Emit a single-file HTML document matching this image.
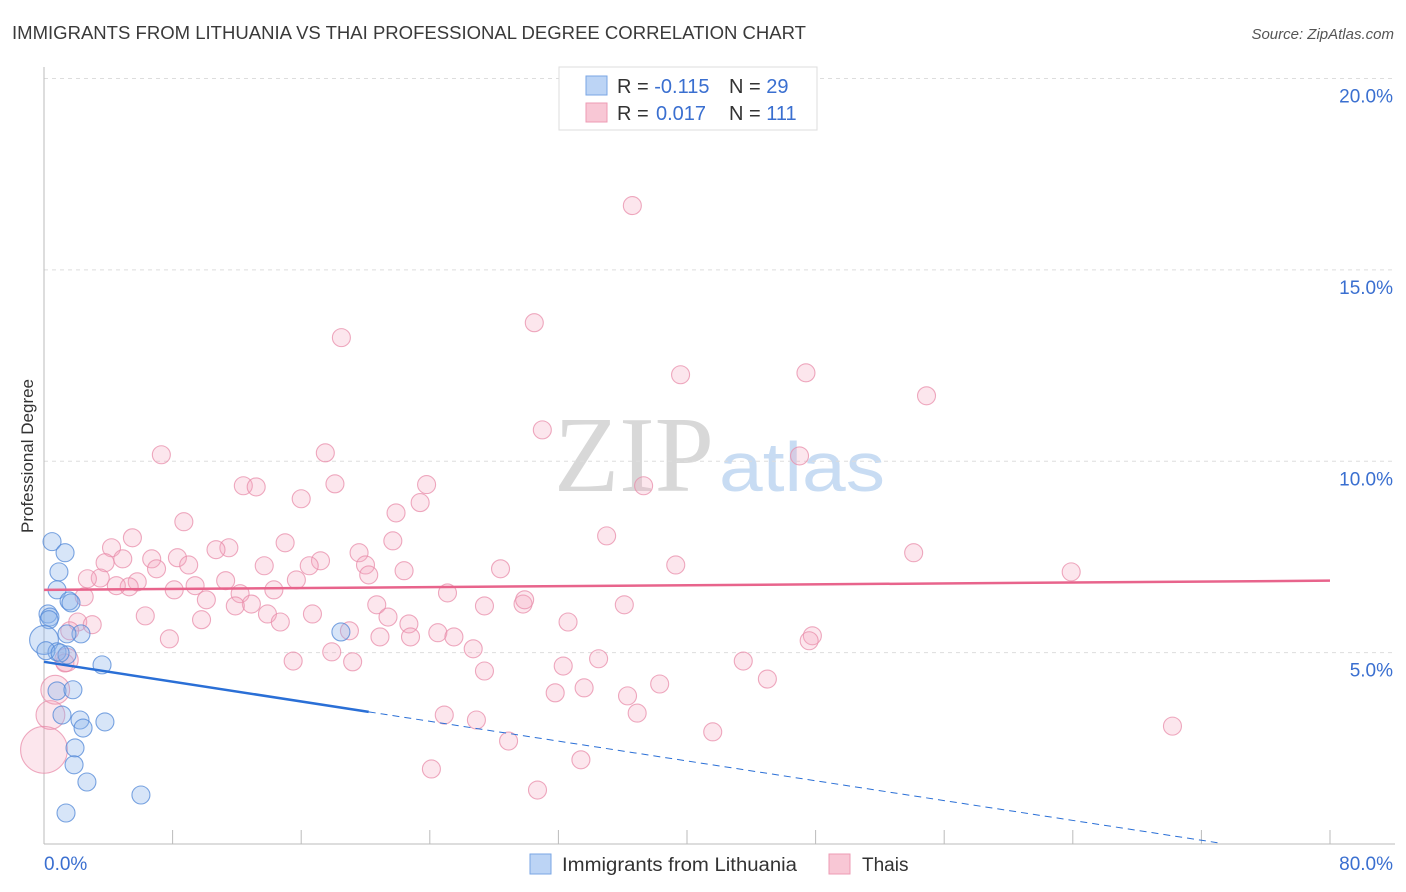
<!DOCTYPE html>
<html><head><meta charset="utf-8"><style>
body{margin:0;background:#fff;font-family:"Liberation Sans",sans-serif;}
svg{display:block}
</style></head><body>
<svg id="chart" width="1406" height="892">
<text x="12" y="39" font-size="18" fill="#3a3a3a" textLength="794" lengthAdjust="spacingAndGlyphs">IMMIGRANTS FROM LITHUANIA VS THAI PROFESSIONAL DEGREE CORRELATION CHART</text>
<text x="1394" y="39" font-size="15" fill="#555" font-style="italic" text-anchor="end">Source: ZipAtlas.com</text>
<text transform="translate(33,456) rotate(-90)" font-size="17" fill="#333" text-anchor="middle">Professional Degree</text>
<g>
<text x="634" y="491" font-size="108" font-family="Liberation Serif,serif" fill="#d8d8d8" text-anchor="middle" textLength="160" lengthAdjust="spacingAndGlyphs">ZIP</text>
<text x="802" y="491" font-size="70" fill="#c8dcf3" text-anchor="middle" textLength="166" lengthAdjust="spacingAndGlyphs">atlas</text>
</g>
<g id="grid"></g><g id="axes"></g><g id="marks"></g><g id="trends"></g>
<g>
<rect x="559" y="67" width="258" height="63" fill="#fff" stroke="#ddd"/>
<rect x="586" y="76" width="21" height="19" fill="#bcd4f5" stroke="#7aa6e4"/>
<rect x="586" y="103" width="21" height="19" fill="#f8c7d5" stroke="#ee9bb4"/>
<text x="617" y="93" font-size="20" fill="#333">R = <tspan fill="#3a6fd0">-0.115</tspan><tspan x="729">N = </tspan><tspan fill="#3a6fd0">29</tspan></text>
<text x="617" y="120" font-size="20" fill="#333">R = <tspan x="656" fill="#3a6fd0">0.017</tspan><tspan x="729">N = </tspan><tspan fill="#3a6fd0">111</tspan></text>
</g>
<g>
<rect x="530" y="854" width="21" height="20" fill="#bcd4f5" stroke="#7aa6e4"/>
<text x="562" y="871" font-size="19" fill="#333" textLength="235" lengthAdjust="spacingAndGlyphs">Immigrants from Lithuania</text>
<rect x="829" y="854" width="21" height="20" fill="#f8c7d5" stroke="#ee9bb4"/>
<text x="862" y="871" font-size="19" fill="#333">Thais</text>
</g>
</svg>
<script>
const blueX=[0.5,1.31,0.93,0.81,1.56,1.68,0.25,0.37,0.31,0,2.3,1.43,0.81,1.43,3.61,0.81,1.8,1.12,2.24,2.43,3.79,1.93,1.87,2.67,6.03,1.37,18.47,0.12,1.0];
const blueY=[7.9,7.61,7.11,6.64,6.35,6.3,6.01,5.93,5.86,5.33,5.49,5.49,5.02,4.94,4.68,4.0,4.03,3.37,3.24,3.03,3.19,2.51,2.07,1.62,1.28,0.81,5.54,5.05,4.99];
const blueW=[1,1,1,1,1,1,1,1,1,1.6,1,1,1,1,1,1,1,1,1,1,1,1,1,1,1,1,1,1,1];
const pinkX=[36.6,30.5,18.5,39.6,47.4,54.9,31.0,7.3,17.5,47.0,12.4,13.2,18.1,23.8,37.3,16.0,23.4,21.9,8.7,35.0,5.5,21.7,15.0,4.2,11.5,10.7,6.7,4.9,19.6,8.3,17.2,54.1,3.8,13.7,16.5,28.4,39.3,20.0,22.4,20.2,63.9,3.5,2.7,9.0,7.0,11.3,5.8,5.3,4.5,9.4,8.1,15.7,14.3,2.5,10.1,12.2,12.9,25.1,11.9,20.7,29.8,27.4,29.9,36.1,6.3,9.8,13.9,14.7,16.7,21.4,22.7,32.6,2.1,3.0,1.6,7.8,19.0,20.9,22.8,24.5,25.5,47.8,47.6,26.7,17.9,34.5,15.5,19.2,27.4,43.5,32.3,1.3,45.0,38.3,33.6,31.8,36.3,0.7,36.9,24.9,26.9,70.2,41.6,0.4,28.9,33.4,24.1,30.7,0,1.4];
const pinkY=[16.68,13.62,13.23,12.26,12.31,11.71,10.82,10.17,10.22,10.14,9.36,9.33,9.41,9.39,9.36,9.02,8.92,8.65,8.42,8.05,8.0,7.92,7.87,7.74,7.74,7.69,7.45,7.45,7.61,7.48,7.4,7.61,7.35,7.27,7.27,7.19,7.29,7.29,7.14,7.03,7.11,6.95,6.93,7.29,7.19,6.88,6.85,6.72,6.75,6.75,6.64,6.9,6.64,6.46,6.38,6.54,6.27,6.56,6.22,6.25,6.27,6.22,6.38,6.25,5.96,5.86,6.01,5.8,6.01,5.93,5.75,5.8,5.8,5.73,5.57,5.36,5.57,5.41,5.41,5.52,5.41,5.44,5.31,5.1,5.02,4.84,4.78,4.76,4.52,4.78,4.65,4.73,4.31,4.18,4.08,3.95,3.87,4.03,3.42,3.37,3.24,3.08,2.93,3.37,2.69,2.2,1.96,1.41,2.46,4.81];
const pinkW=pinkX.map((v,i)=>1);
pinkW[97]=1.6;pinkW[103]=1.6;pinkW[108]=2.6;pinkW[109]=1.3;
const yTicks=[5,10,15,20];
const blueTrend=[4.76,-0.42];const pinkTrend=[6.64,6.88];
const NS='http://www.w3.org/2000/svg';
const X=v=>44+v/80*1286, Y=v=>844-v/20*765.5;
function mk(tag,attrs,parent){const e=document.createElementNS(NS,tag);for(const k in attrs)e.setAttribute(k,attrs[k]);parent.appendChild(e);return e;}
const grid=document.getElementById('grid'),axes=document.getElementById('axes'),marks=document.getElementById('marks'),trends=document.getElementById('trends');
yTicks.forEach(t=>{
 const l=mk('line',{x1:44,x2:1395,y1:Y(t),y2:Y(t),stroke:'#ddd','stroke-dasharray':'4,4'},grid);
 
 
 const tx=mk('text',{x:1393,y:Y(t)+24,'font-size':19,fill:'#3a6fd0','text-anchor':'end'},axes);
 tx.textContent=t.toFixed(1)+'%';
 
 
});
const ya=mk('line',{x1:44,x2:44,y1:67,y2:844,stroke:'#bbb'},axes);


const xa=mk('line',{x1:44,x2:1395,y1:844,y2:844,stroke:'#bbb'},axes);


for(let i=1;i<=10;i++){const t=mk('line',{x1:X(i*8),x2:X(i*8),y1:830,y2:844,stroke:'#bbb'},axes);
 
 }
const x0=mk('text',{x:44,y:870,'font-size':19,fill:'#3a6fd0'},axes);x0.textContent='0.0%';


const x1=mk('text',{x:1393,y:870,'font-size':19,fill:'#3a6fd0','text-anchor':'end'},axes);x1.textContent='80.0%';


pinkX.forEach((v,i)=>{const c=mk('circle',{cx:X(v),cy:Y(pinkY[i]),r:9*pinkW[i],fill:'rgba(245,165,190,0.28)',stroke:'rgba(232,140,170,0.75)','stroke-width':1.1},marks);
 
 });
blueX.forEach((v,i)=>{const c=mk('circle',{cx:X(v),cy:Y(blueY[i]),r:9*blueW[i],fill:'rgba(140,180,235,0.35)',stroke:'rgba(80,135,215,0.75)','stroke-width':1.1},marks);
 
 });
const by=x=>blueTrend[0]+(blueTrend[1]-blueTrend[0])*x/80;
const b1=mk('line',{x1:X(0),y1:Y(by(0)),x2:X(20.2),y2:Y(by(20.2)),stroke:'#2a6fd6','stroke-width':2.5},trends);


const b2=mk('line',{x1:X(20.2),y1:Y(by(20.2)),x2:X(73),y2:Y(by(73)),stroke:'#2a6fd6','stroke-width':1,'stroke-dasharray':'7,5'},trends);


const p1=mk('line',{x1:X(0),y1:Y(pinkTrend[0]),x2:X(80),y2:Y(pinkTrend[1]),stroke:'#e8648c','stroke-width':2.5},trends);


</script>
</body></html>
